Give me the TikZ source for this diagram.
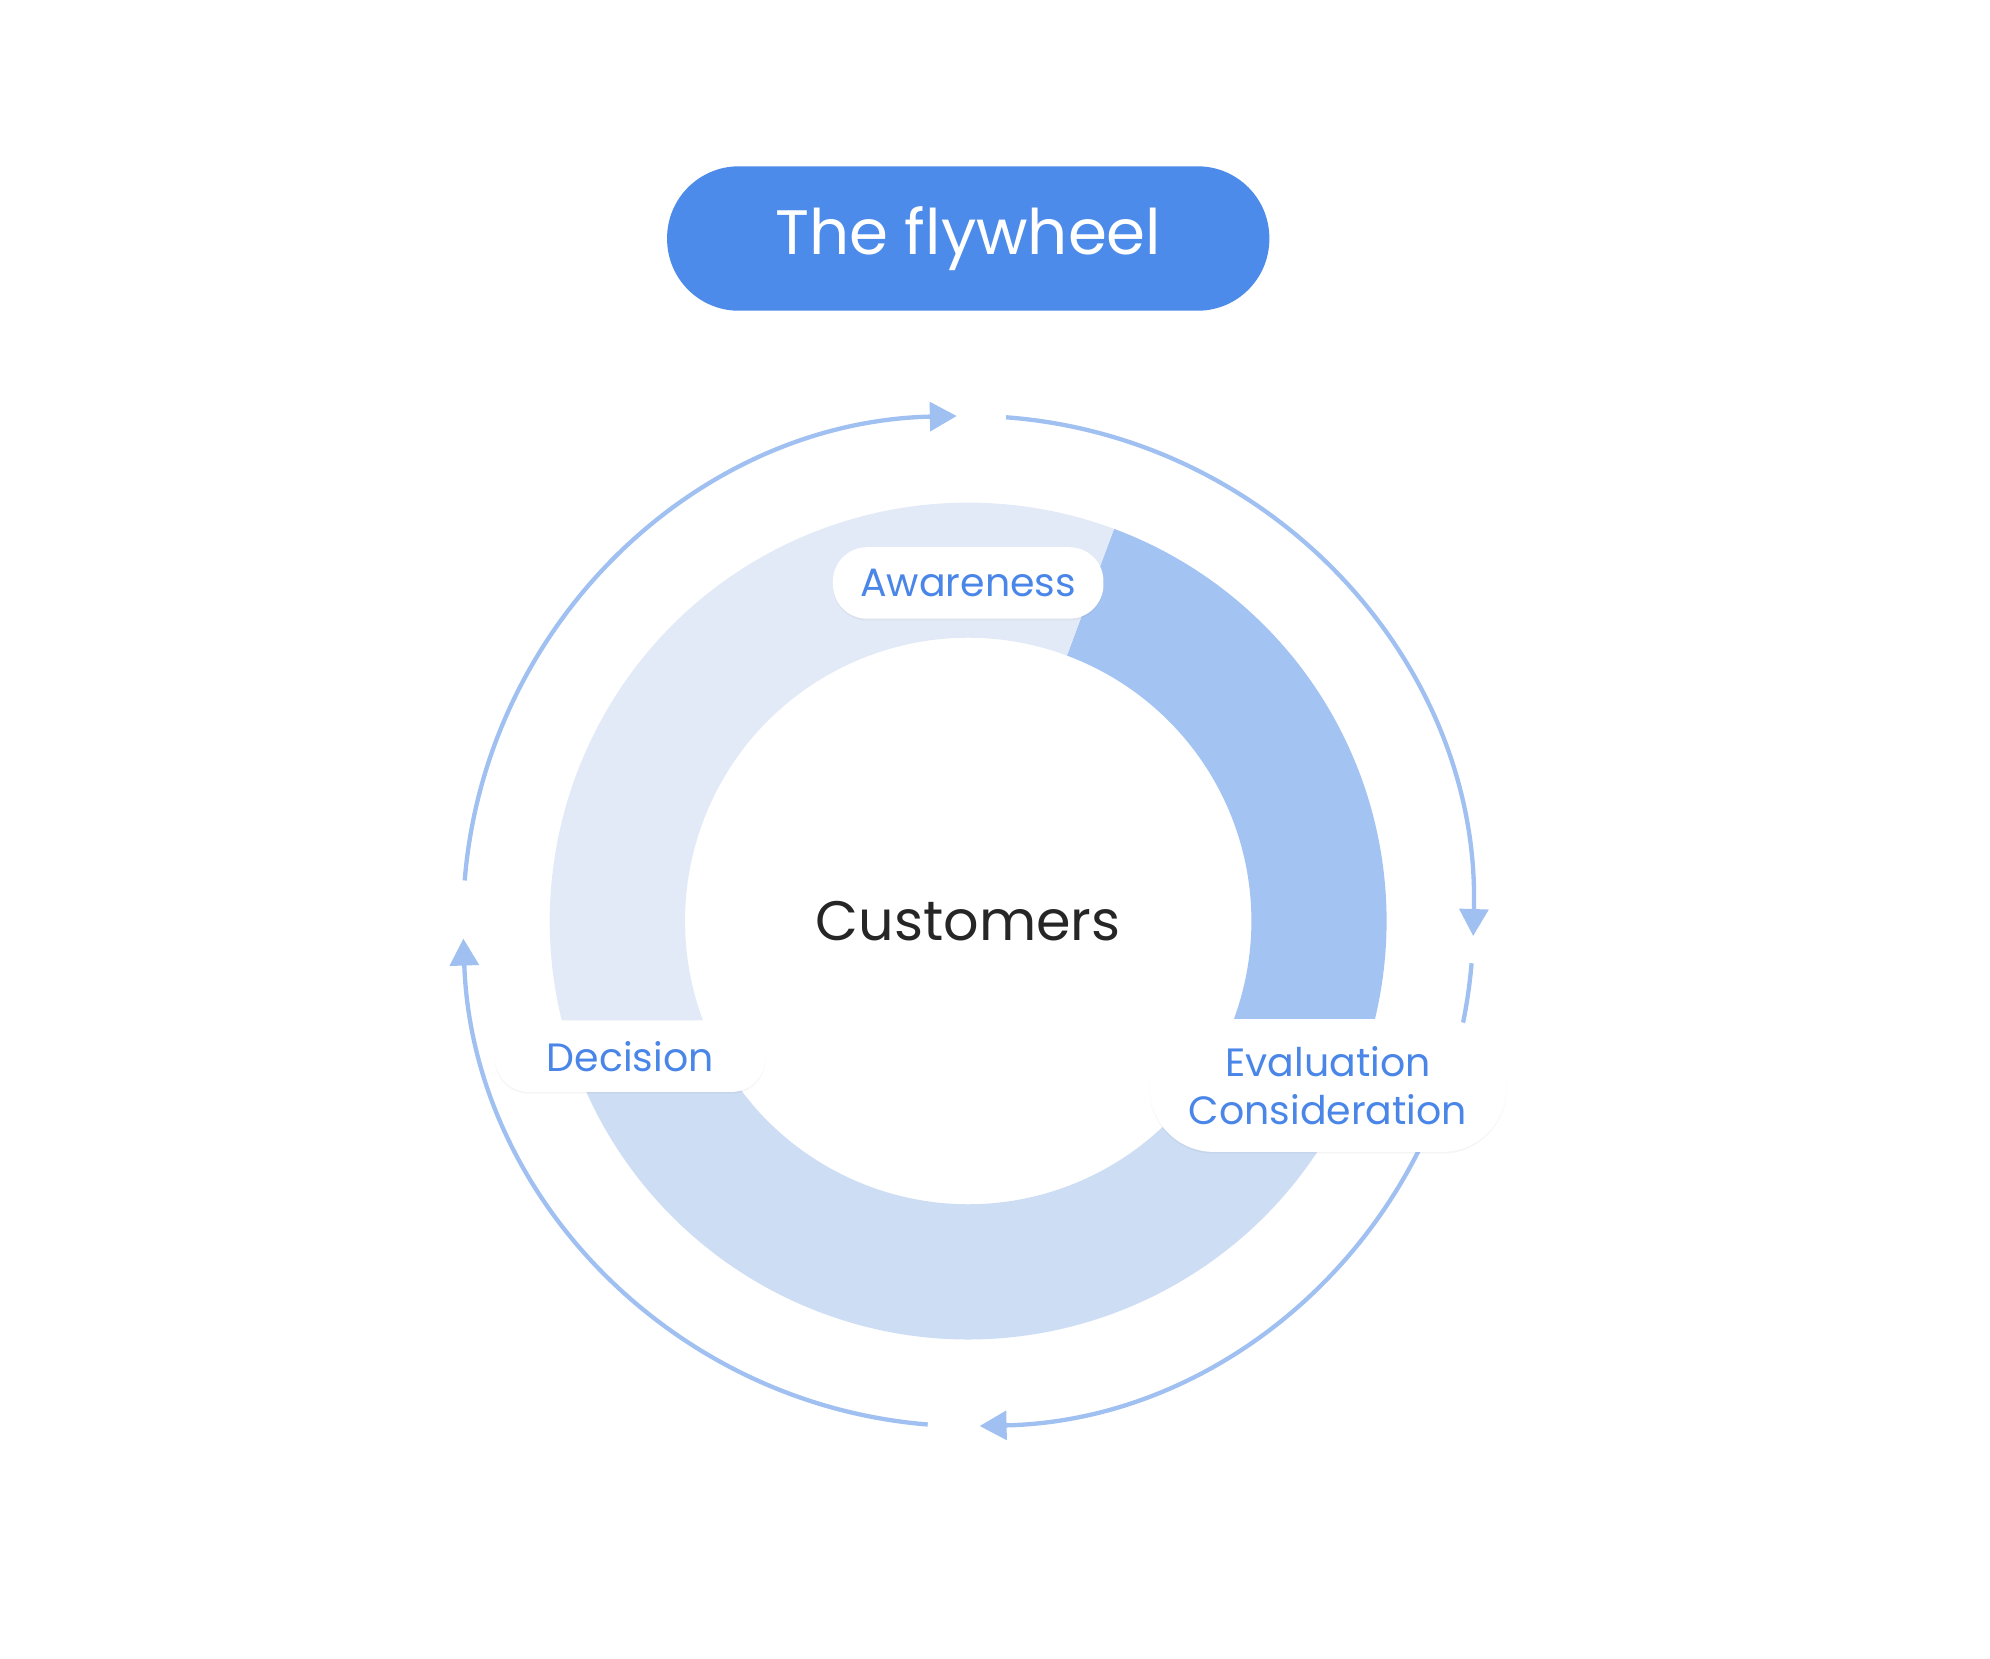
\documentclass[tikz,border=0pt]{standalone}
\usepackage{fontspec}
\setmainfont{Poppins}
\usetikzlibrary{positioning, arrows.meta, shadows}

\definecolor{titleblue}{HTML}{4D8BEB}
\definecolor{textblue}{HTML}{4A86E8}
\definecolor{ringlight}{HTML}{E3EAF7}
\definecolor{ringdark}{HTML}{A3C3F2}
\definecolor{ringmid}{HTML}{CCDDF4}
\definecolor{arcblue}{HTML}{9FC0F0}

\tikzset{
  stagelabel/.style={rounded corners=19pt, fill=white, text=textblue, font=\fontsize{22}{27}\selectfont,
    align=center, drop shadow={shadow xshift=0pt, shadow yshift=-1pt, opacity=0.08}},
  cyclearc/.style={arcblue, line width=2.4pt},
  cyclehead/.style={-{Triangle[width=16pt,length=15pt]}}
}

\begin{document}
\begin{tikzpicture}[x=0.025cm, y=0.025cm]
\useasboundingbox (0,0) rectangle (1560,1300);

% Title
\node[fill=titleblue, text=white, rounded corners=40pt, minimum width=11.8cm, minimum height=2.83cm,
  font=\fontsize{35}{40}\selectfont] (title) at (759,1113) {The flywheel};

% Ring
\begin{scope}[shift={(759,578)}]
  \fill[ringdark] (69.6:328) arc (69.6:-22:328) -- (-22:222) arc (-22:69.6:222) -- cycle;
  \fill[ringmid] (-22:328) arc (-22:-157:328) -- (-157:222) arc (-157:-22:222) -- cycle;
  \fill[ringlight] (203:328) arc (203:69.6:328) -- (69.6:222) arc (69.6:203:222) -- cycle;

  % Cycle arrows
  \draw[cyclearc, cyclehead] (175.4:396) arc (175.4:91.3:396);
  \draw[cyclearc, cyclehead] (85.7:396) arc (85.7:-1.7:396);
  \draw[cyclearc, cyclehead] (-4.8:396) arc (-4.8:-88.7:396);
  \draw[cyclearc, cyclehead] (-94.6:396) arc (-94.6:-178:396);
\end{scope}

\node[font=\fontsize{31}{36}\selectfont, text=black!85] (customers) at (759,578) {Customers};

% Stage labels
\node[stagelabel, minimum width=5.3cm, minimum height=1.4cm] (awareness) at (759,843) {Awareness};
\node[stagelabel, minimum width=5.3cm, minimum height=1.4cm] (decision) at (494,472) {Decision};
\node[stagelabel, minimum width=7cm, minimum height=2.6cm, rounded corners=36pt] (evaluation) at (1041,449) {Evaluation\\Consideration};

\end{tikzpicture}
\end{document}
